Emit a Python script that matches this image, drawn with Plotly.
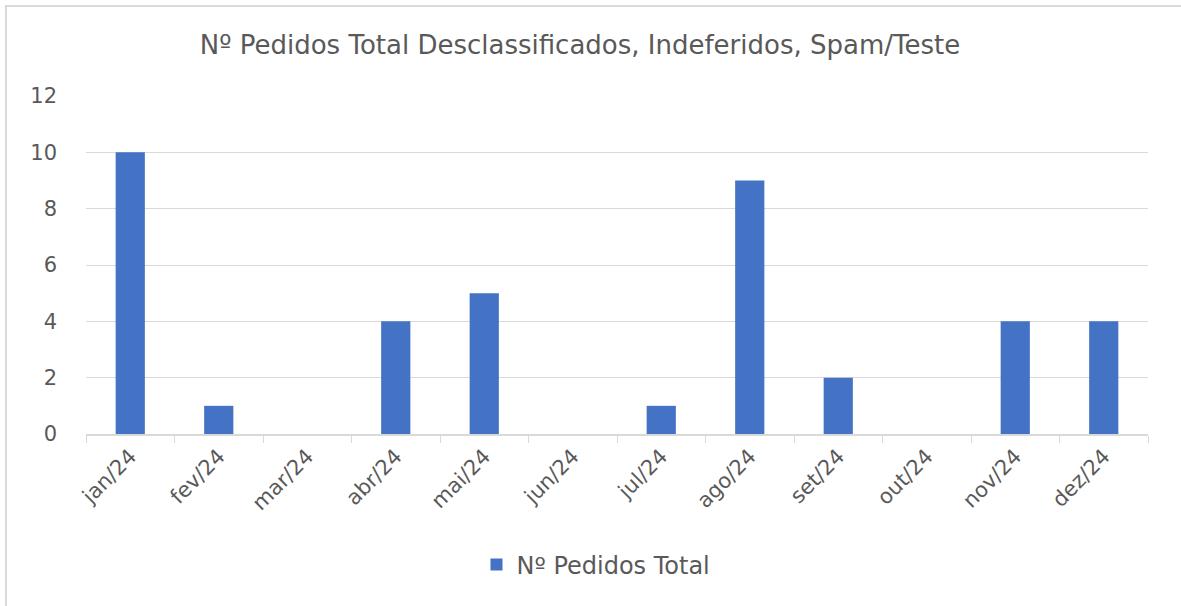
import plotly.graph_objects as go

months = ["jan/24", "fev/24", "mar/24", "abr/24", "mai/24", "jun/24",
          "jul/24", "ago/24", "set/24", "out/24", "nov/24", "dez/24"]
pedidos = [10, 1, 0, 4, 5, 0, 1, 9, 2, 0, 4, 4]
series_name = "Nº Pedidos Total"
title_text = "Nº Pedidos Total Desclassificados, Indeferidos, Spam/Teste"

W, H = 1181, 606
L, R, T, B = 86, 1148, 96, 434
pw, ph = R - L, B - T

fig = go.Figure()
fig.add_trace(go.Bar(x=months, y=pedidos, name=series_name,
                     marker=dict(color="#4472C4", line=dict(width=0))))

font_family = "DejaVu Sans, sans-serif"
fig.update_layout(
    width=W, height=H,
    margin=dict(l=L, r=W - R, t=T, b=H - B, autoexpand=False),
    paper_bgcolor="white", plot_bgcolor="white",
    bargap=0.67,
    showlegend=True,
    title=dict(text=title_text, x=580 / W, xanchor="center", xref="container",
               y=1 - 45 / H, yanchor="middle", yref="container",
               font=dict(family=font_family, size=26, color="#595959")),
    legend=dict(orientation="h", x=(596 - L) / pw, xanchor="center",
                y=(B - 565) / ph, yanchor="middle",
                font=dict(family=font_family, size=24, color="#595959"),
                itemwidth=30),
    font=dict(family=font_family, color="#595959"),
)
fig.update_xaxes(type="category", tickangle=-45, tickson="boundaries",
                 ticks="outside", ticklen=7, tickcolor="#d9d9d9",
                 showline=True, linecolor="#d9d9d9", linewidth=1.5,
                 showgrid=False, automargin=False,
                 tickfont=dict(family=font_family, size=21, color="#595959"))
fig.update_yaxes(range=[0, 12], dtick=2, showgrid=True, gridcolor="#d9d9d9",
                 gridwidth=1, zeroline=False, showline=False,
                 ticklabelstandoff=28, automargin=False,
                 tickfont=dict(family=font_family, size=21, color="#595959"))

# chart-area border (left and top visible)
fig.add_shape(type="rect", xref="paper", yref="paper",
              x0=(6 - L) / pw, x1=(W + 20 - L) / pw,
              y0=(B - (H + 20)) / ph, y1=(B - 6) / ph,
              line=dict(color="#d9d9d9", width=2), fillcolor="rgba(0,0,0,0)",
              layer="below")

fig.write_html("out.html", config={"displayModeBar": False},
               post_script="document.body.style.margin='0';")
